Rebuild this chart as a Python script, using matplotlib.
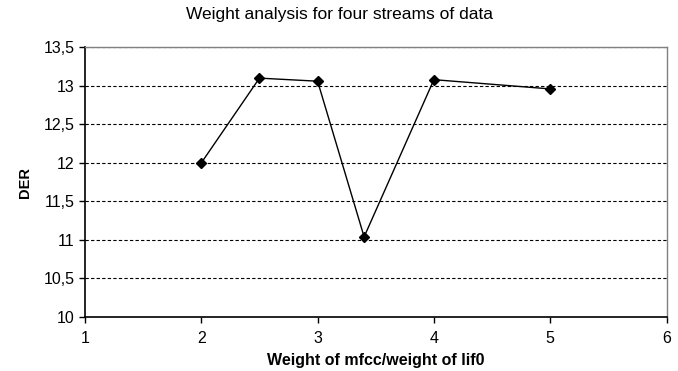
import matplotlib
matplotlib.use("Agg")
from matplotlib import pyplot as plt
from matplotlib.ticker import FuncFormatter

# weight ratio mfcc / lif0 and resulting DER
weights = [2, 2.5, 3, 3.4, 4, 5]
der = [12.0, 13.1, 13.06, 11.04, 13.08, 12.96]

x_ticks = [1, 2, 3, 4, 5, 6]
y_ticks = [10, 10.5, 11, 11.5, 12, 12.5, 13, 13.5]

plt.rcParams['font.family'] = ['Liberation Sans', 'DejaVu Sans']

fig = plt.figure(figsize=(6.78, 3.71), dpi=100)
ax = fig.add_axes([85 / 678, 1 - 317 / 371, (666.5 - 85) / 678, (317 - 47.3) / 371])

ax.plot(weights, der, color="black", linewidth=1, marker="D", markersize=5.5,
        markerfacecolor="black", markeredgecolor="black")

ax.set_xlim(1, 6)
ax.set_ylim(10, 13.5)
ax.set_xticks(x_ticks)
ax.set_yticks(y_ticks)
ax.yaxis.set_major_formatter(FuncFormatter(lambda v, p: f"{v:g}".replace(".", ",")))
ax.tick_params(axis="both", labelsize=11.5, direction="out", length=4, width=1, color="black")
ax.tick_params(axis="x", pad=6)

ax.grid(axis="y", color="black", linestyle=(0, (3, 2)), linewidth=0.8)
ax.set_axisbelow(True)

for side in ["left", "bottom"]:
    ax.spines[side].set_color("black")
    ax.spines[side].set_linewidth(1.2)
for side in ["top", "right"]:
    ax.spines[side].set_color("#808080")
    ax.spines[side].set_linewidth(1)

ax.set_xlabel("Weight of mfcc/weight of lif0", fontsize=11.5, fontweight="bold", labelpad=5)
ax.set_ylabel("DER", fontsize=10.5, fontweight="bold", labelpad=8)
fig.text(0.5, 1 - 14 / 371, "Weight analysis for four streams of data", ha="center",
         va="center", fontsize=12.5)

fig.savefig("out.png", dpi=100)
